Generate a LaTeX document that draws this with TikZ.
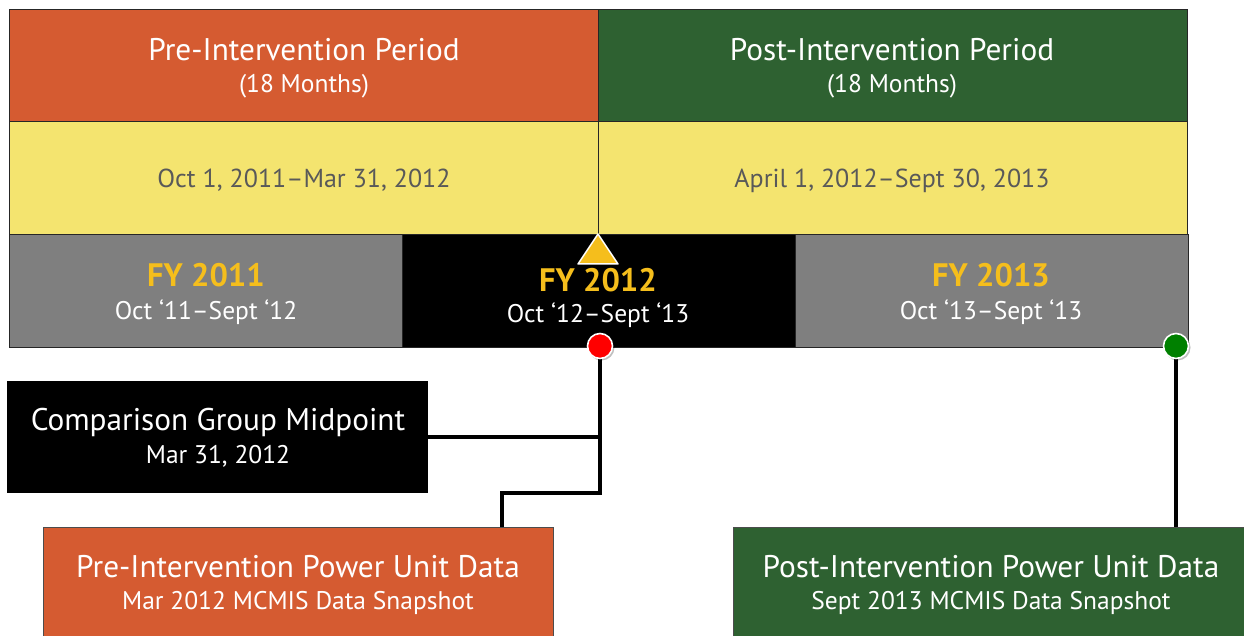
\documentclass[tikz,border=0pt]{standalone}
\usepackage{fontspec}
\setmainfont{PT Sans}
\definecolor{cOrange}{HTML}{D55B31}
\definecolor{cGreen}{HTML}{2E6131}
\definecolor{cYellow}{HTML}{F4E46F}
\definecolor{cGray}{HTML}{7F7F7F}
\definecolor{cFY}{HTML}{F5BE1C}
\definecolor{cDate}{HTML}{595959}
\definecolor{cRed}{HTML}{FF0000}
\definecolor{cDot}{HTML}{008000}
\begin{document}
\begin{tikzpicture}[x=1pt,y=-1pt,
  box/.style={draw=black!85,line width=0.8pt,inner sep=0pt,outer sep=0pt,anchor=north west},
  conn/.style={draw=black,line width=3.2pt},
  big/.style={font=\fontsize{31.3}{34}\selectfont,text=white,anchor=base},
  small/.style={font=\fontsize{25.5}{28}\selectfont,text=white,anchor=base},
  datet/.style={font=\fontsize{26}{28}\selectfont,text=cDate,anchor=base},
  fyt/.style={font=\fontsize{32.5}{34}\selectfont\bfseries,text=cFY,anchor=base},
  dot/.style={circle,draw=white,line width=1.6pt,minimum size=25pt,inner sep=0pt}]
\useasboundingbox (0,0) rectangle (1244,636);
% top band
\node[box,fill=cOrange,minimum width=589pt,minimum height=112pt] (pre) at (9,9) {};
\node[box,fill=cGreen,minimum width=589pt,minimum height=112pt] (post) at (598,9) {};
\node[box,fill=cYellow,minimum width=589pt,minimum height=113pt] (preY) at (9,121) {};
\node[box,fill=cYellow,minimum width=589pt,minimum height=113pt] (postY) at (598,121) {};
\node[box,fill=cGray,minimum width=393pt,minimum height=113pt] (fy11) at (9,234) {};
\node[box,fill=black,minimum width=393pt,minimum height=113pt] (fy12) at (402,234) {};
\node[box,fill=cGray,minimum width=393pt,minimum height=113pt] (fy13) at (795,234) {};
% texts
\node[big] (preT) at (304,61) {Pre-Intervention Period};
\node[small] (preS) at (304,93) {(18 Months)};
\node[big] (postT) at (892,61) {Post-Intervention Period};
\node[small] (postS) at (892,93) {(18 Months)};
\node[datet] (preD) at (304,188) {Oct 1, 2011–Mar 31, 2012};
\node[datet] (postD) at (892,188) {April 1, 2012–Sept 30, 2013};
\node[fyt] (fy11T) at (206,287) {FY 2011};
\node[small] (fy11S) at (206,319) {Oct ‘11–Sept ‘12};
\node[fyt] (fy12T) at (598,291) {FY 2012};
\node[small] (fy12S) at (598,322) {Oct ‘12–Sept ‘13};
\node[fyt] (fy13T) at (991,287) {FY 2013};
\node[small] (fy13S) at (991,319) {Oct ‘13–Sept ‘13};
% triangle marker
\coordinate (apex) at (598,234);
\draw[fill=cFY,draw=white,line width=1.5pt,line join=round] (apex) -- ++(20,30) -- ++(-40,0) -- cycle;
% lower boxes
\node[box,draw=none,fill=black,minimum width=421pt,minimum height=112pt] (cmp) at (7,381) {};
\node[big] (cmpT) at (218,430) {Comparison Group Midpoint};
\node[small] (cmpS) at (218,463) {Mar 31, 2012};
\node[box,draw=black!70,fill=cOrange,minimum width=510pt,minimum height=115pt] (preData) at (43,527) {};
\node[big] (preDT) at (298,577) {Pre-Intervention Power Unit Data};
\node[small] (preDS) at (298,609) {Mar 2012 MCMIS Data Snapshot};
\node[box,draw=black!70,fill=cGreen,minimum width=520pt,minimum height=115pt] (postData) at (733,527) {};
\node[big] (postDT) at (991,577) {Post-Intervention Power Unit Data};
\node[small] (postDS) at (991,609) {Sept 2013 MCMIS Data Snapshot};
% dots positions
\coordinate (redC) at (600,346);
\coordinate (greenC) at (1176,346);
\coordinate (jog) at (502,493);
% connectors
\draw[conn] (redC) -- (redC |- jog) -- (jog) -- (jog |- preData.north);
\draw[conn] (cmp.east) -- (cmp.east -| redC);
\draw[conn] (greenC) -- (greenC |- postData.north);
% dots
\fill[black,opacity=0.25] (601.5,347.5) circle (13pt);
\fill[black,opacity=0.25] (1177.5,347.5) circle (13pt);
\node[dot,fill=cRed] (red) at (redC) {};
\node[dot,fill=cDot] (green) at (greenC) {};
\end{tikzpicture}
\end{document}
